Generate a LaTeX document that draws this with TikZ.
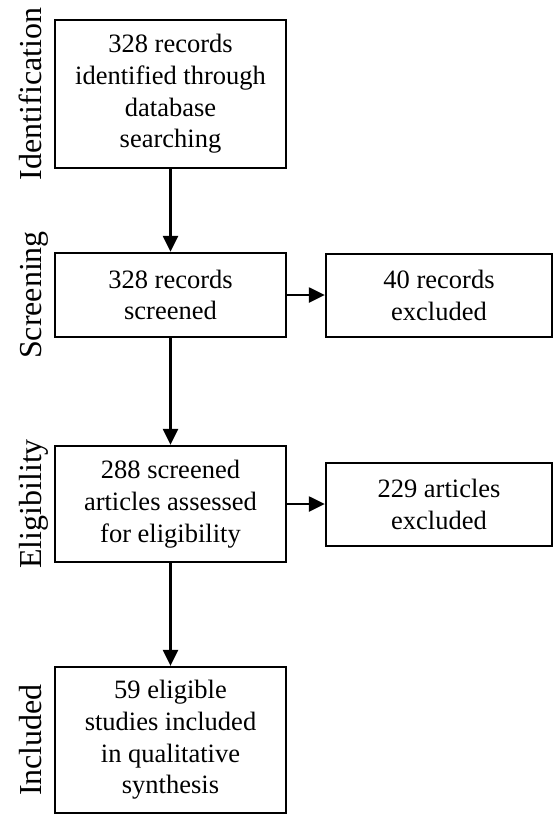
\documentclass[tikz,border=0pt]{standalone}
\usepackage{fontspec}
\setmainfont{Liberation Serif}
\usetikzlibrary{arrows.meta}

\begin{document}
\begin{tikzpicture}[
    x=1pt, y=-1pt,
    box/.style={draw, line width=2.3pt, inner sep=0pt, align=center,
                minimum width=231pt,
                font=\fontsize{26.5}{31.7}\selectfont},
    side/.style={rotate=90, anchor=base,
                 font=\fontsize{32}{38}\selectfont},
    arr/.style={-{Triangle[length=16pt,width=15pt]}, line width=2.3pt}
  ]
    \useasboundingbox (0,0) rectangle (553,814);

    % main column
    \node[box, minimum height=148pt] (ident) at (170.5,94)  {328 records\\identified through\\database\\searching};
    \node[box, minimum height=84pt]  (scr)   at (170.5,295) {328 records\\screened};
    \node[box, minimum height=116pt] (elig)  at (170.5,504) {288 screened\\articles assessed\\for eligibility};
    \node[box, minimum height=146pt] (incl)  at (170.5,740) {59 eligible\\studies included\\in qualitative\\synthesis};

    % exclusions
    \node[box, minimum width=226pt, minimum height=83pt] (recx) at (439,295.5) {40 records\\excluded};
    \node[box, minimum width=226pt, minimum height=83pt] (artx) at (439,504.5) {229 articles\\excluded};

    % stage labels, centred on their boxes
    \node[side] (lid) at ([xshift=-12.5pt]ident.west) {Identification};
    \node[side] (lsc) at ([xshift=-12.5pt]scr.west)   {Screening};
    \node[side] (lel) at ([xshift=-12.5pt]elig.west)  {Eligibility};
    \node[side] (lin) at ([xshift=-12.5pt]incl.west)  {Included};

    \draw[arr] (ident) -- (scr);
    \draw[arr] (scr) -- (elig);
    \draw[arr] (elig) -- (incl);
    \draw[arr] (scr.east) -- (scr.east -| recx.west);
    \draw[arr] (elig.east) -- (elig.east -| artx.west);
  \end{tikzpicture}
\end{document}
